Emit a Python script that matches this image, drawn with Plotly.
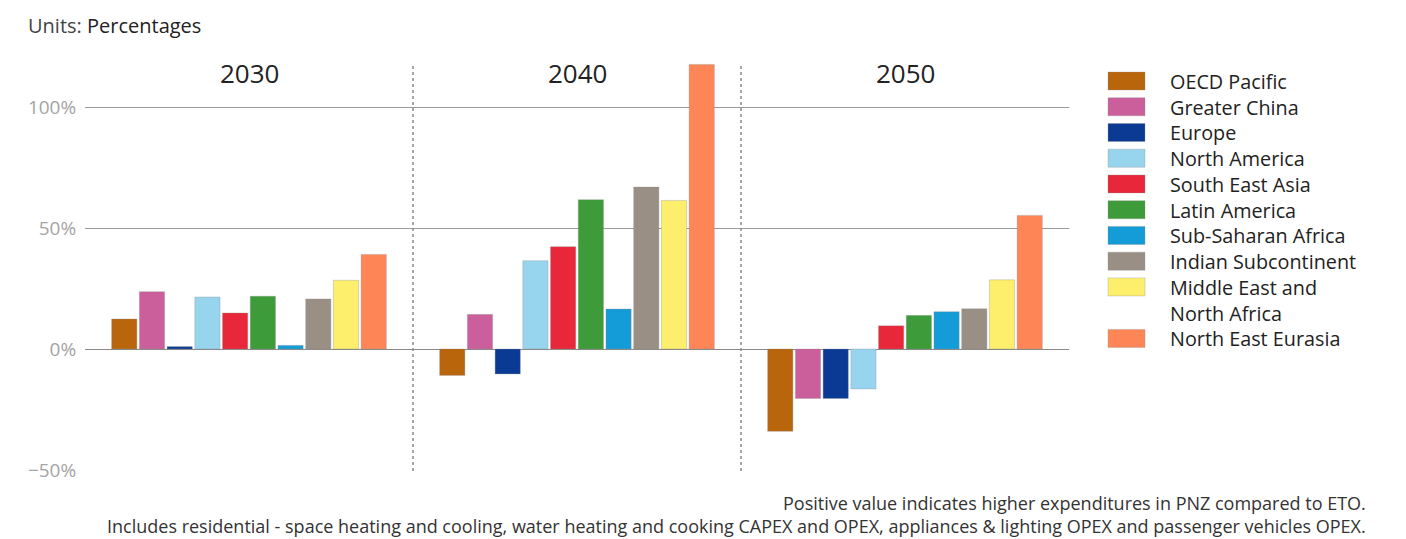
import plotly.graph_objects as go

years = ["2030", "2040", "2050"]
regions = ["OECD Pacific", "Greater China", "Europe", "North America", "South East Asia",
           "Latin America", "Sub-Saharan Africa", "Indian Subcontinent",
           "Middle East and<br>North Africa", "North East Eurasia"]
colors = ["#B9650C", "#CB5F9C", "#0B3A94", "#97D4EE", "#E8283A",
          "#3E9B3A", "#139CD8", "#9A8F85", "#FDEF6C", "#FE8656"]
oecd_pacific = [12.4, -10.9, -34.0]
greater_china = [23.7, 14.3, -20.4]
europe = [1.0, -10.3, -20.4]
north_america = [21.5, 36.5, -16.5]
south_east_asia = [14.9, 42.3, 9.6]
latin_america = [21.8, 61.7, 13.9]
sub_saharan_africa = [1.5, 16.5, 15.4]
indian_subcontinent = [20.7, 66.9, 16.6]
middle_east_north_africa = [28.4, 61.4, 28.6]
north_east_eurasia = [39.1, 117.6, 55.2]
series = [oecd_pacific, greater_china, europe, north_america, south_east_asia,
          latin_america, sub_saharan_africa, indian_subcontinent,
          middle_east_north_africa, north_east_eurasia]
y_ticks = [-50, 0, 50, 100]
y_tick_labels = ["−50%", "0%", "50%", "100%"]
notes = ["Positive value indicates higher expenditures in PNZ compared to ETO.",
         "Includes residential - space heating and cooling, water heating and cooking CAPEX and OPEX, appliances & lighting OPEX and passenger vehicles OPEX."]

FONT = "Open Sans"
W, H = 1406, 539
ML, MR, MT, MB = 85, 337, 58, 68
PW, PH = W - ML - MR, H - MT - MB

def px(x):
    return (x - ML) / PW

def py(y):
    return (H - MB - y) / PH

fig = go.Figure()
for name, vals, col in zip(regions, series, colors):
    fig.add_trace(go.Bar(x=years, y=vals, name=name.replace("<br>", " "),
                         marker=dict(color=col, line=dict(color="rgba(140,140,140,0.55)", width=0.6)),
                         showlegend=False))

fig.update_layout(
    width=W, height=H,
    margin=dict(l=ML, r=MR, t=MT, b=MB),
    paper_bgcolor="white", plot_bgcolor="white",
    barmode="group", bargap=0.155, bargroupgap=0.09,
    font=dict(family=FONT, color="#222"),
    xaxis=dict(type="category", showticklabels=False, showgrid=False, zeroline=False,
               showline=False, range=[-0.5, 2.5]),
    yaxis=dict(range=[-50.4, 120.25], tickvals=y_ticks, ticktext=y_tick_labels,
               showgrid=True, gridcolor="#9a9a9a", gridwidth=1,
               zeroline=True, zerolinecolor="#8a8a8a", zerolinewidth=1,
               tickfont=dict(size=19, color="#a4a4a4", family=FONT),
               ticks="outside", ticklen=4, tickcolor="rgba(0,0,0,0)"),
)

# separators between year groups
for xs in [0.5, 1.5]:
    fig.add_shape(type="line", xref="x", yref="paper", x0=xs, x1=xs, y0=0, y1=0.985,
                  line=dict(color="#8a8a8a", width=1.5, dash="dot"))

# year labels
for i, yr in enumerate(years):
    fig.add_annotation(x=i, y=114, xref="x", yref="y", text=yr, showarrow=False,
                       font=dict(size=26, color="#222", family=FONT), yanchor="middle")

# units
fig.add_annotation(x=px(26), y=py(25), xref="paper", yref="paper", xanchor="left", yanchor="middle",
                   text="<span style='color:#444'>Units:</span> Percentages", showarrow=False,
                   font=dict(size=20, color="#222", family=FONT))

# custom legend: swatches + one multi-line text block
LEG_SIZE = 19.8
step = LEG_SIZE * 1.3
row_y = 81
for name, col in zip(regions, colors):
    fig.add_shape(type="rect", xref="paper", yref="paper",
                  x0=px(1108), x1=px(1145), y0=py(row_y - 9), y1=py(row_y + 9),
                  fillcolor=col, line=dict(color="rgba(140,140,140,0.55)", width=0.6))
    row_y += step * len(name.split("<br>"))
n_lines = sum(len(n.split("<br>")) for n in regions)
fig.add_annotation(x=px(1169), y=py(81 + step * (n_lines - 1) / 2), xref="paper", yref="paper",
                   xanchor="left", yanchor="middle", align="left", borderpad=0,
                   text="<br>".join(regions), showarrow=False,
                   font=dict(size=LEG_SIZE, color="#222", family=FONT))

# notes
for i, note in enumerate(notes):
    fig.add_annotation(x=px(1367), y=py(539 - (1 - i) * 23), xref="paper", yref="paper",
                       xanchor="right", yanchor="bottom", borderpad=0, text=note, showarrow=False,
                       font=dict(size=18, color="#333", family=FONT))

fig.write_html("out.html", config={"displayModeBar": False},
               post_script="document.body.style.margin='0px';")
